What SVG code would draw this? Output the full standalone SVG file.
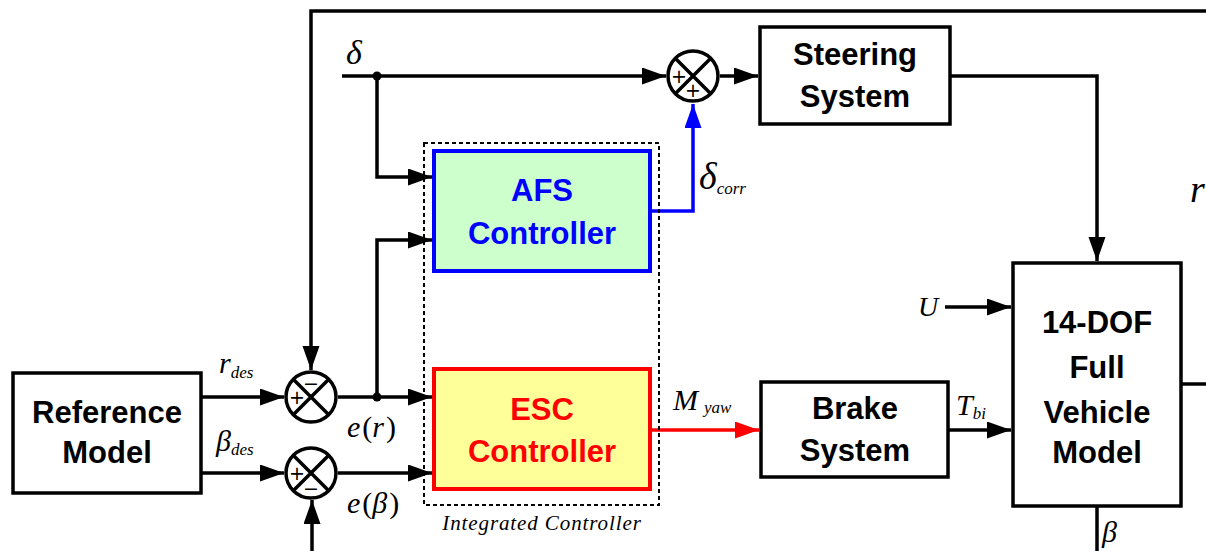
<svg xmlns="http://www.w3.org/2000/svg" width="1206" height="551" viewBox="0 0 1206 551">
<defs>
<style>
.ln{fill:none;stroke:#000;stroke-width:3.5;stroke-linejoin:miter}
.box{fill:#fff;stroke:#000;stroke-width:3.5}
.bt{font-family:"Liberation Sans",Arial,sans-serif;font-weight:bold;font-size:31px;text-anchor:middle;fill:#000}
.it{font-family:"Liberation Serif","Times New Roman",serif;font-style:italic;fill:#000}
.sg{font-family:"DejaVu Sans","Liberation Sans",sans-serif;font-size:19px;text-anchor:middle;fill:#000}
.sum{fill:#fff;stroke:#000;stroke-width:3.5}
</style>
<marker id="ab" markerUnits="userSpaceOnUse" markerWidth="26" markerHeight="18" refX="24" refY="8.5" orient="auto"><path d="M0,0 L24,8.5 L0,17 z" fill="#000"/></marker>
<marker id="abl" markerUnits="userSpaceOnUse" markerWidth="26" markerHeight="18" refX="24" refY="8.5" orient="auto"><path d="M0,0 L24,8.5 L0,17 z" fill="#0000ff"/></marker>
<marker id="ar" markerUnits="userSpaceOnUse" markerWidth="26" markerHeight="18" refX="24" refY="8.5" orient="auto"><path d="M0,0 L24,8.5 L0,17 z" fill="#ff0000"/></marker>
</defs>
<rect width="1206" height="551" fill="#fff"/>

<g id="connectors">
<path class="ln" d="M1206,11 H311 V370" marker-end="url(#ab)"/>
<path class="ln" d="M312,551 V500" marker-end="url(#ab)"/>
<path class="ln" d="M202,397 H284" marker-end="url(#ab)"/>
<path class="ln" d="M202,473 H284" marker-end="url(#ab)"/>
<path class="ln" d="M338,397 H432" marker-end="url(#ab)"/>
<path class="ln" d="M377,397 V240 H432" marker-end="url(#ab)"/>
<path class="ln" d="M338,473 H432" marker-end="url(#ab)"/>
<path class="ln" d="M342,76 H666" marker-end="url(#ab)"/>
<path class="ln" d="M377,76 V177 H432" marker-end="url(#ab)"/>
<path class="ln" d="M720,76 H758" marker-end="url(#ab)"/>
<path d="M652,211 H693 V104" fill="none" stroke="#0000ff" stroke-width="3.5" marker-end="url(#abl)"/>
<path class="ln" d="M950,76 H1097 V261" marker-end="url(#ab)"/>
<path d="M652,430 H759" fill="none" stroke="#ff0000" stroke-width="3.5" marker-end="url(#ar)"/>
<path class="ln" d="M948,430 H1011" marker-end="url(#ab)"/>
<path class="ln" d="M945,307 H1011" marker-end="url(#ab)"/>
<path class="ln" d="M1181,384 H1206"/>
<path class="ln" d="M1097,506 V551"/>
<circle cx="377" cy="76" r="4.5" fill="#000"/>
<circle cx="377" cy="397" r="4.5" fill="#000"/>
</g>

<g id="dashed-frame">
<rect x="424" y="143" width="235" height="362" fill="none" stroke="#000" stroke-width="2" stroke-dasharray="4,3"/>
<text class="it" x="542" y="530" font-size="21" letter-spacing="0.9" text-anchor="middle">Integrated Controller</text>
</g>

<g id="reference-model">
<rect class="box" x="13" y="373" width="188" height="120"/>
<text class="bt" x="107" y="423">Reference</text>
<text class="bt" x="107" y="463">Model</text>
</g>

<g id="sum1">
<circle class="sum" cx="311" cy="397" r="25"/>
<path class="ln" d="M293,379 L329,415 M329,379 L293,415"/>
<text class="sg" x="311" y="390">−</text>
<text class="sg" x="297" y="404">+</text>
</g>

<g id="sum2">
<circle class="sum" cx="311" cy="473" r="25"/>
<path class="ln" d="M293,455 L329,491 M329,455 L293,491"/>
<text class="sg" x="297" y="480">+</text>
<text class="sg" x="311" y="495">−</text>
</g>

<g id="sum3">
<circle class="sum" cx="693" cy="76" r="25"/>
<path class="ln" d="M675,58 L711,94 M711,58 L675,94"/>
<text class="sg" x="679" y="83">+</text>
<text class="sg" x="693" y="97">+</text>
</g>

<g id="afs">
<rect x="434" y="151" width="216" height="120" fill="#ccffcc" stroke="#0000ff" stroke-width="4"/>
<text class="bt" x="542" y="201" style="fill:#0000ff">AFS</text>
<text class="bt" x="542" y="244" style="fill:#0000ff">Controller</text>
</g>

<g id="esc">
<rect x="434" y="369" width="216" height="120" fill="#ffff99" stroke="#ff0000" stroke-width="4"/>
<text class="bt" x="542" y="420" style="fill:#ff0000">ESC</text>
<text class="bt" x="542" y="462" style="fill:#ff0000">Controller</text>
</g>

<g id="steering">
<rect class="box" x="760" y="27" width="190" height="97"/>
<text class="bt" x="855" y="65">Steering</text>
<text class="bt" x="855" y="107">System</text>
</g>

<g id="brake">
<rect class="box" x="761" y="382" width="187" height="95"/>
<text class="bt" x="855" y="419">Brake</text>
<text class="bt" x="855" y="461">System</text>
</g>

<g id="vehicle">
<rect class="box" x="1013" y="263" width="168" height="243"/>
<text class="bt" x="1097" y="333" font-size="32">14-DOF</text>
<text class="bt" x="1097" y="378">Full</text>
<text class="bt" x="1097" y="423">Vehicle</text>
<text class="bt" x="1097" y="463">Model</text>
</g>

<g id="labels">
<text class="it" x="346" y="64" font-size="34">δ</text>
<text class="it" x="699" y="189" font-size="38">δ<tspan font-size="17" dy="5">corr</tspan></text>
<text class="it" x="219" y="373" font-size="30">r<tspan font-size="17" dy="5">des</tspan></text>
<text class="it" x="216" y="451" font-size="30">β<tspan font-size="17" dy="4">des</tspan></text>
<text class="it" x="347" y="437" font-size="30">e<tspan font-style="normal" dx="2">(</tspan>r<tspan font-style="normal" dx="2">)</tspan></text>
<text class="it" x="347" y="513" font-size="30">e<tspan font-style="normal" dx="2">(</tspan>β<tspan font-style="normal" dx="2">)</tspan></text>
<text class="it" x="673" y="410" font-size="30">M<tspan font-size="17" dx="6" dy="3">yaw</tspan></text>
<text class="it" x="956" y="415" font-size="30">T<tspan font-size="17" dy="4">bi</tspan></text>
<text class="it" x="918" y="316" font-size="28">U</text>
<text class="it" x="1190" y="202" font-size="38">r</text>
<text class="it" x="1102" y="542" font-size="30">β</text>
</g>
</svg>
